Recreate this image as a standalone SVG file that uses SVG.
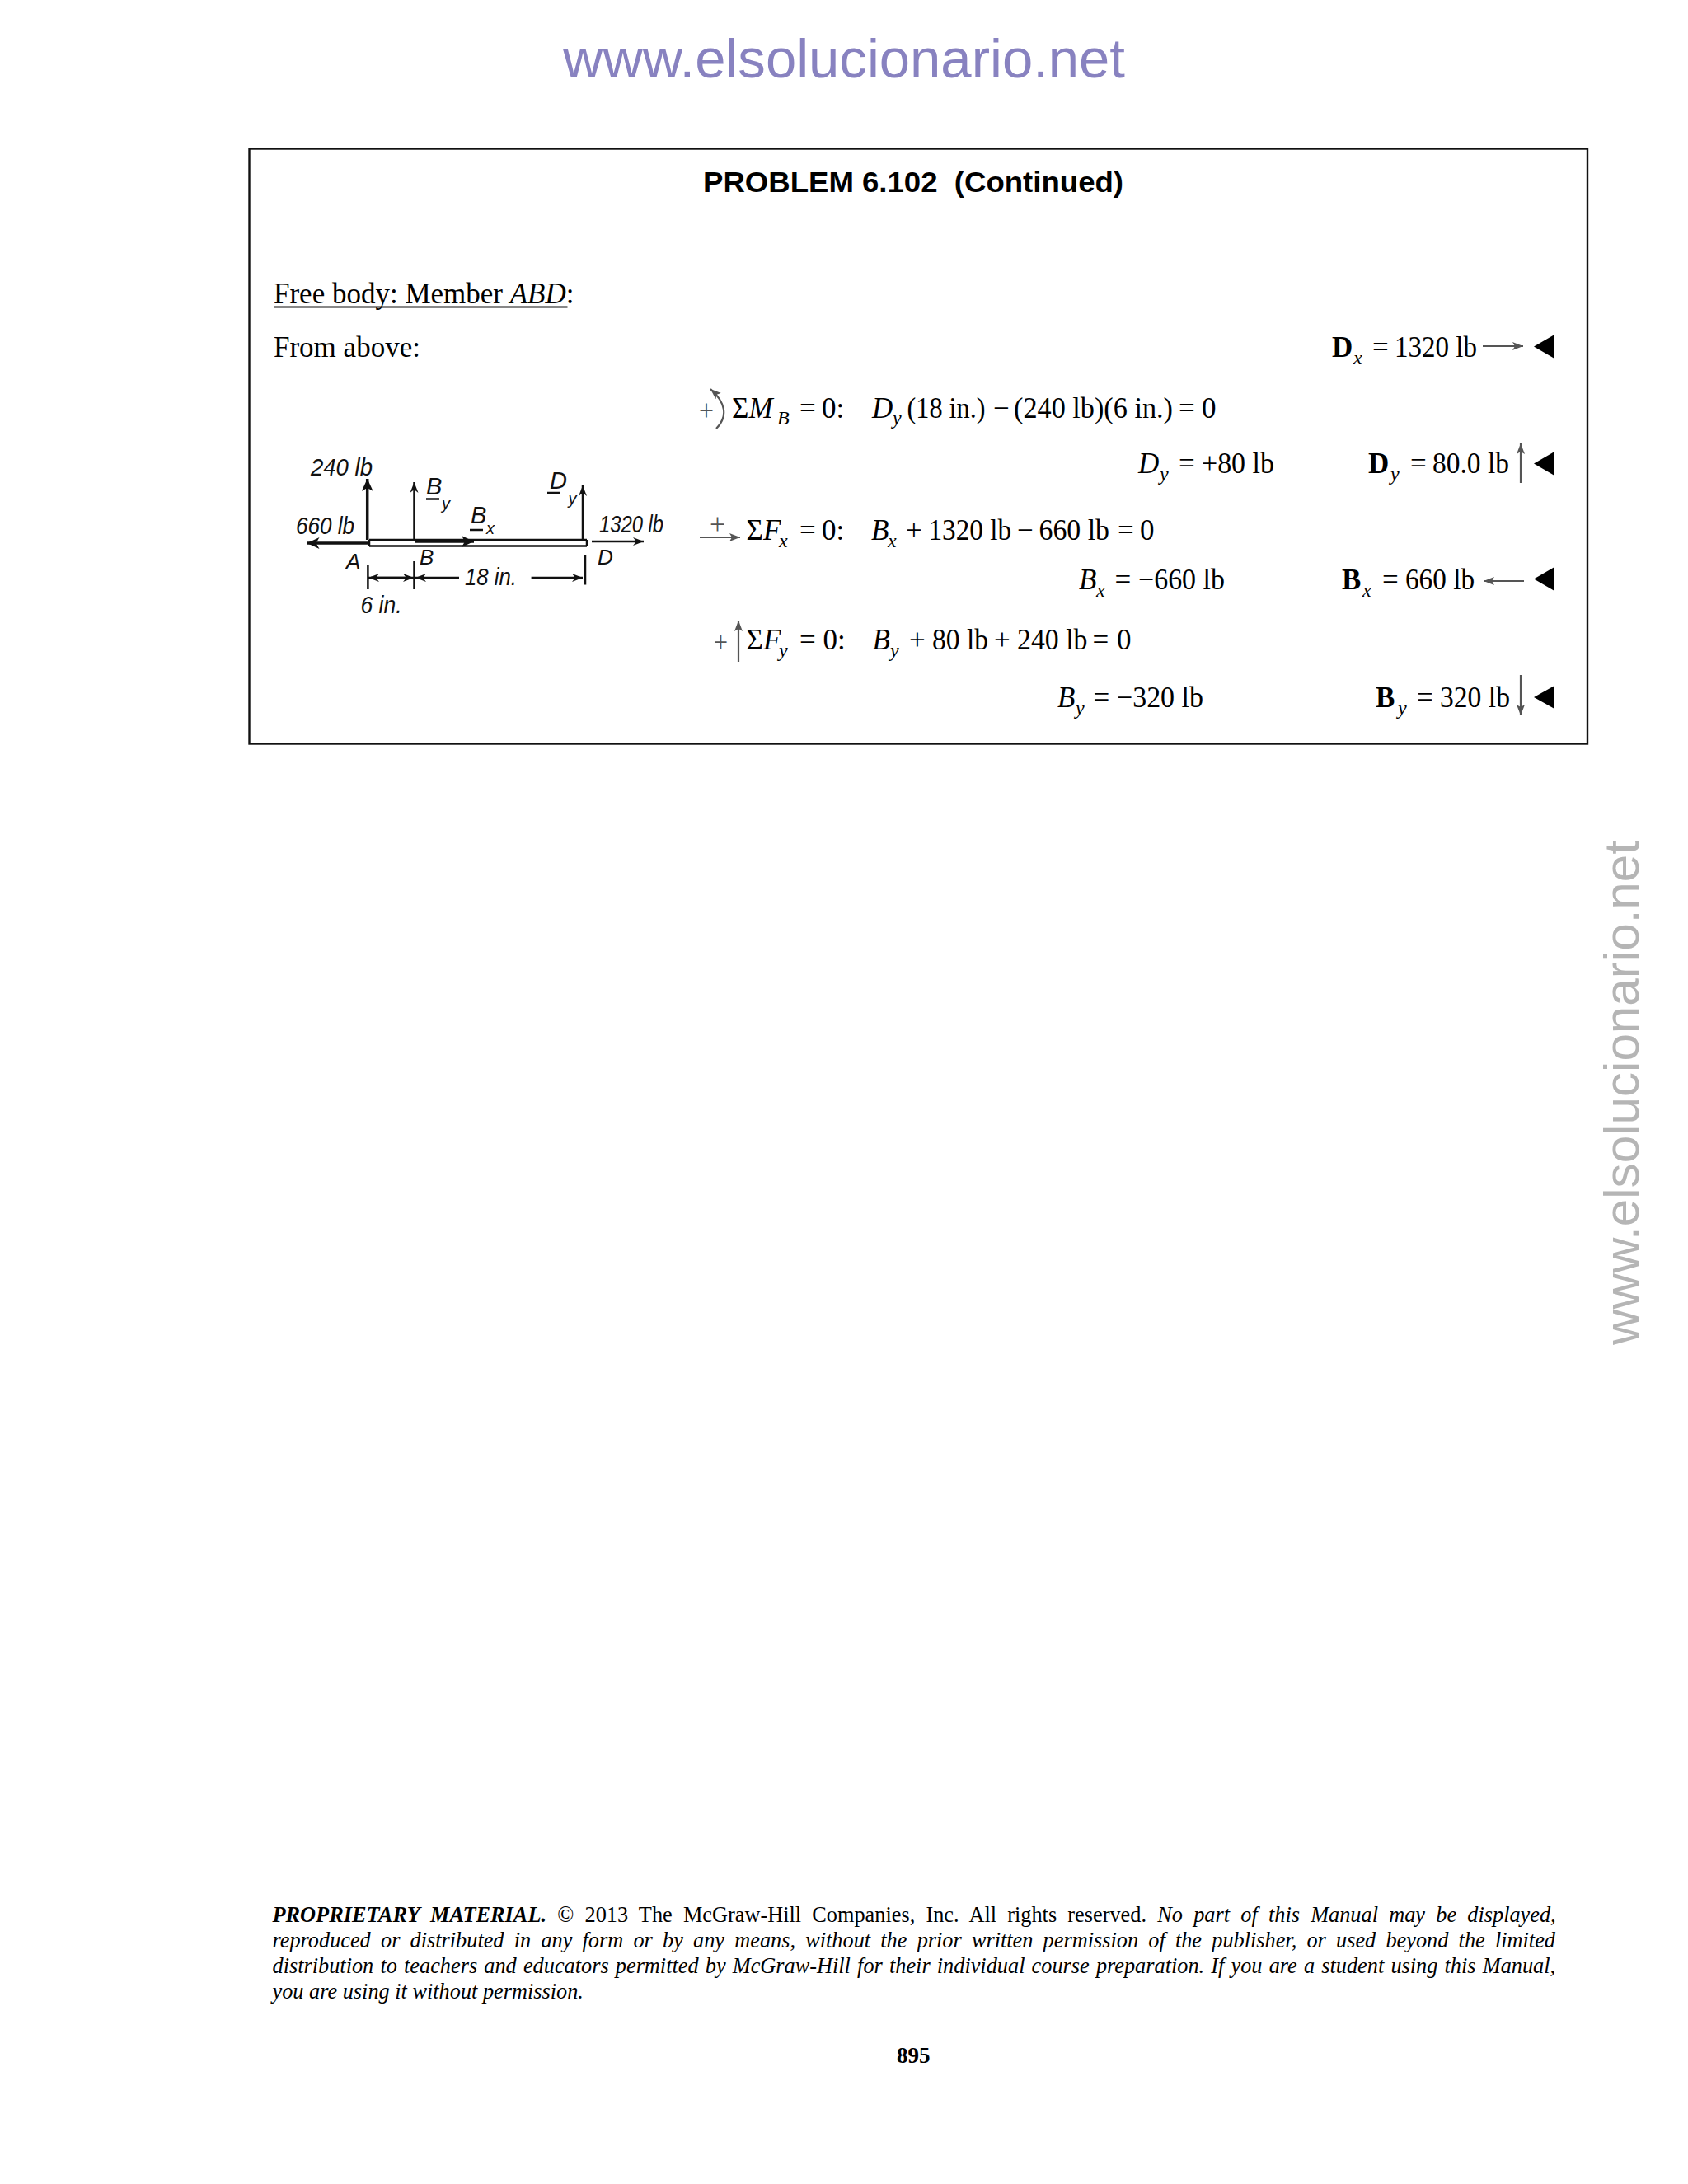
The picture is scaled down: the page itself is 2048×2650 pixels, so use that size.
<svg xmlns="http://www.w3.org/2000/svg" width="2048" height="2650" viewBox="0 0 2048 2650">
<style>
text{font-family:"Liberation Serif","Times New Roman",serif;fill:#000}
.t{font-size:35px}
.m{font-size:35px}
.i{font-size:35px;font-style:italic}
.b{font-size:35px;font-weight:bold}
.s{font-size:24px;font-style:italic}
.g{font-size:35px;fill:#555}
.f{font-size:26.3px;font-style:italic}
.h{font-family:"Liberation Sans",Arial,sans-serif;font-style:italic;font-size:29px;fill:#111}
.l{font-size:26px}
.u{font-size:20px}
.c{stroke:#555;stroke-width:2.2;fill:none}
.k{stroke:#111;stroke-width:2.5;fill:none}
.k2{stroke:#111;stroke-width:3.5;fill:none}
</style>
<defs>
<marker id="g" markerUnits="userSpaceOnUse" markerWidth="14" markerHeight="10" refX="13" refY="5" orient="auto"><path d="M0 0L13 5L0 10L3 5Z" fill="#555"/></marker>
<marker id="h" markerUnits="userSpaceOnUse" markerWidth="16" markerHeight="14" refX="15" refY="7" orient="auto"><path d="M0 0L15 7L0 14L4 7Z" fill="#111"/></marker>
<marker id="h2" markerUnits="userSpaceOnUse" markerWidth="14" markerHeight="10" refX="13" refY="5" orient="auto"><path d="M0 0L13 5L0 10L4 5Z" fill="#111"/></marker>
</defs>

<g id="watermark">
<text x="683" y="94" font-size="66" textLength="682" lengthAdjust="spacingAndGlyphs" style="font-family:'Liberation Sans',Arial,sans-serif;fill:#8882c0">www.elsolucionario.net</text>
<text transform="translate(1988 1632) rotate(-90)" font-size="60" textLength="612" lengthAdjust="spacingAndGlyphs" style="font-family:'Liberation Sans',Arial,sans-serif;fill:#b5b5b5">www.elsolucionario.net</text>
</g>

<g id="box"><rect x="302.5" y="180.5" width="1623.5" height="722" fill="none" stroke="#111" stroke-width="2.4"/></g>

<g id="title"><text x="853" y="233" font-size="35" font-weight="bold" textLength="510" lengthAdjust="spacingAndGlyphs" xml:space="preserve" style="font-family:'Liberation Sans',Arial,sans-serif">PROBLEM 6.102  (Continued)</text></g>

<g id="intro">
<text class="t" x="332" y="368">Free body: Member <tspan font-style="italic">ABD</tspan>:</text>
<line x1="332" y1="372.5" x2="688.5" y2="372.5" stroke="#111" stroke-width="2"/>
<text class="t" x="332" y="433">From above:</text>
</g>

<g id="sketch">
<path class="k" d="M448 655H712M448 662.5H712M448 655V662.5M712 655V662.5"/>
<text class="h" x="377" y="577" textLength="75" lengthAdjust="spacingAndGlyphs">240 lb</text>
<text class="h" x="359" y="648" textLength="71" lengthAdjust="spacingAndGlyphs">660 lb</text>
<text class="h" x="727" y="646" textLength="78" lengthAdjust="spacingAndGlyphs">1320 lb</text>
<text class="h" x="517" y="600">B</text><text class="h u" x="536" y="618">y</text>
<path class="k" d="M517 605.5H533"/>
<text class="h" x="571" y="635">B</text><text class="h u" x="590" y="648">x</text>
<path class="k" d="M570 643H586"/>
<text class="h" x="667" y="593">D</text><text class="h u" x="689.5" y="612">y</text>
<path class="k" d="M664 598H680"/>
<text class="h l" x="420" y="690">A</text>
<text class="h l" x="509" y="685">B</text>
<text class="h l" x="725" y="685">D</text>
<text class="h" x="564" y="709.5" textLength="63" lengthAdjust="spacingAndGlyphs">18 in.</text>
<text class="h" x="437.5" y="744" textLength="50" lengthAdjust="spacingAndGlyphs">6 in.</text>
</g>

<g id="sketch-connectors">
<path class="k2" d="M445.7 655V581" marker-end="url(#h)"/>
<path class="k" d="M502.5 655V585" marker-end="url(#h2)"/>
<path class="k" d="M707 655V589" marker-end="url(#h2)"/>
<path class="k2" d="M448 659H372.5" marker-end="url(#h)"/>
<path class="k" d="M718 657H781" marker-end="url(#h2)"/>
<path class="k2" d="M503.5 657H575" marker-end="url(#h)"/>
<path class="k" d="M446.4 685V715M502.5 681V715M710 673V709.6"/>
<path class="k" d="M450 701H502" marker-end="url(#h2)"/>
<path class="k" d="M498 701H447" marker-end="url(#h2)"/>
<path class="k" d="M557 701H504" marker-end="url(#h2)"/>
<path class="k" d="M644.6 701H707" marker-end="url(#h2)"/>
</g>

<g id="eq-moment">
<text class="g" x="848" y="510" textLength="18" lengthAdjust="spacingAndGlyphs">+</text>
<path class="c" d="M869 520C884 505 880 488 862 472" marker-end="url(#g)"/>
<text class="m" x="888" y="507">Σ<tspan font-style="italic">M</tspan></text>
<text class="s" x="943" y="515">B</text>
<text class="m" x="970" y="507">=</text>
<text class="m" x="997" y="507">0:</text>
<text class="i" x="1058" y="507">D</text><text class="s" x="1083" y="515">y</text>
<text class="m" x="1100.5" y="507" textLength="95" lengthAdjust="spacingAndGlyphs">(18 in.)</text>
<text class="m" x="1205" y="507">−</text>
<text class="m" x="1230" y="507" textLength="193" lengthAdjust="spacingAndGlyphs">(240 lb)(6 in.)</text>
<text class="m" x="1430" y="507">=</text>
<text class="m" x="1458" y="507">0</text>
</g>

<g id="eq-dy">
<text class="i" x="1381" y="574">D</text><text class="s" x="1407" y="583">y</text>
<text class="m" x="1430" y="574">=</text>
<text class="m" x="1458" y="574" textLength="88" lengthAdjust="spacingAndGlyphs">+80 lb</text>
</g>

<g id="eq-fx">
<text class="g" x="861" y="648" textLength="19" lengthAdjust="spacingAndGlyphs">+</text>
<path class="c" d="M849 652H898" marker-end="url(#g)"/>
<text class="m" x="905.5" y="655">Σ<tspan font-style="italic">F</tspan></text>
<text class="s" x="945" y="664">x</text>
<text class="m" x="970" y="655">=</text>
<text class="m" x="997" y="655">0:</text>
<text class="i" x="1057" y="655">B</text><text class="s" x="1077" y="664">x</text>
<text class="m" x="1099" y="655">+</text>
<text class="m" x="1126.5" y="655" textLength="100.5" lengthAdjust="spacingAndGlyphs">1320 lb</text>
<text class="m" x="1234" y="655">−</text>
<text class="m" x="1260.5" y="655" textLength="85.5" lengthAdjust="spacingAndGlyphs">660 lb</text>
<text class="m" x="1356" y="655">=</text>
<text class="m" x="1383" y="655">0</text>
</g>

<g id="eq-bx">
<text class="i" x="1309" y="715">B</text><text class="s" x="1330" y="724">x</text>
<text class="m" x="1352.5" y="715">=</text>
<text class="m" x="1381" y="715" textLength="105" lengthAdjust="spacingAndGlyphs">−660 lb</text>
</g>

<g id="eq-fy">
<text class="g" x="866" y="791" textLength="17" lengthAdjust="spacingAndGlyphs">+</text>
<path class="c" d="M896 803V753" marker-end="url(#g)"/>
<text class="m" x="905.5" y="788">Σ<tspan font-style="italic">F</tspan></text>
<text class="s" x="945" y="797">y</text>
<text class="m" x="970" y="788">=</text>
<text class="m" x="998.5" y="788">0:</text>
<text class="i" x="1058.5" y="788">B</text><text class="s" x="1080" y="797">y</text>
<text class="m" x="1103" y="788">+</text>
<text class="m" x="1131" y="788" textLength="68" lengthAdjust="spacingAndGlyphs">80 lb</text>
<text class="m" x="1206" y="788">+</text>
<text class="m" x="1234" y="788" textLength="85.5" lengthAdjust="spacingAndGlyphs">240 lb</text>
<text class="m" x="1325.5" y="788">=</text>
<text class="m" x="1355" y="788">0</text>
</g>

<g id="eq-by">
<text class="i" x="1283" y="858">B</text><text class="s" x="1305" y="867">y</text>
<text class="m" x="1326.5" y="858">=</text>
<text class="m" x="1355" y="858" textLength="105" lengthAdjust="spacingAndGlyphs">−320 lb</text>
</g>

<g id="answer-dx">
<text class="b" x="1616" y="433">D</text><text class="s" x="1642" y="442">x</text>
<text class="m" x="1665" y="433">=</text>
<text class="m" x="1692" y="433" textLength="100" lengthAdjust="spacingAndGlyphs">1320 lb</text>
<path class="c" d="M1799 420H1848" marker-end="url(#g)"/>
<path d="M1861 420.5L1886 406V435Z" fill="#000"/>
</g>
<g id="answer-dy">
<text class="b" x="1660" y="574">D</text><text class="s" x="1687" y="583">y</text>
<text class="m" x="1711" y="574">=</text>
<text class="m" x="1738" y="574" textLength="93" lengthAdjust="spacingAndGlyphs">80.0 lb</text>
<path class="c" d="M1845 586V538" marker-end="url(#g)"/>
<path d="M1861 562.5L1886 548V577Z" fill="#000"/>
</g>
<g id="answer-bx">
<text class="b" x="1628" y="715">B</text><text class="s" x="1653" y="724">x</text>
<text class="m" x="1677" y="715">=</text>
<text class="m" x="1705" y="715" textLength="84" lengthAdjust="spacingAndGlyphs">660 lb</text>
<path class="c" d="M1849 705H1800" marker-end="url(#g)"/>
<path d="M1861 702.5L1886 688V717Z" fill="#000"/>
</g>
<g id="answer-by">
<text class="b" x="1669" y="858">B</text><text class="s" x="1696" y="867">y</text>
<text class="m" x="1719" y="858">=</text>
<text class="m" x="1747" y="858" textLength="85" lengthAdjust="spacingAndGlyphs">320 lb</text>
<path class="c" d="M1845 819V868" marker-end="url(#g)"/>
<path d="M1861 846L1886 832V860Z" fill="#000"/>
</g>

<g id="footer">
<text class="f" x="330.5" y="2332" word-spacing="6.66"><tspan font-weight="bold">PROPRIETARY MATERIAL.</tspan><tspan font-style="normal"> © 2013 The McGraw-Hill Companies, Inc. All rights reserved. </tspan>No part of this Manual may be displayed,</text>
<text class="f" x="330.5" y="2363" word-spacing="5.63">reproduced or distributed in any form or by any means, without the prior written permission of the publisher, or used beyond the limited</text>
<text class="f" x="330.5" y="2394" word-spacing="1.6">distribution to teachers and educators permitted by McGraw-Hill for their individual course preparation. If you are a student using this Manual,</text>
<text class="f" x="330.5" y="2425">you are using it without permission.</text>
<text x="1088" y="2503" font-size="27" font-weight="bold">895</text>
</g>
</svg>
